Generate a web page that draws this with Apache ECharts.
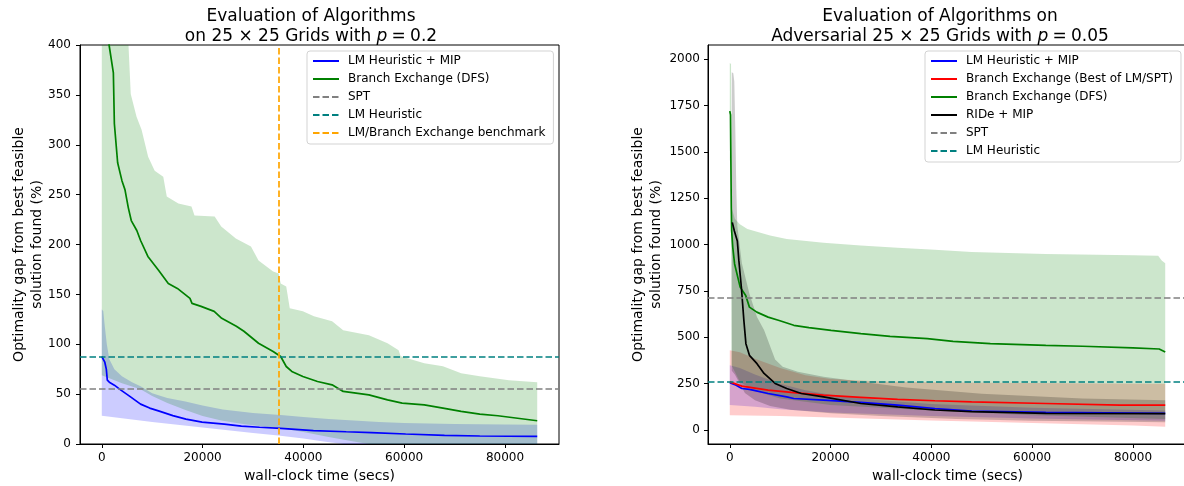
<!DOCTYPE html>
<html><head><meta charset="utf-8">
<script src="https://cdn.jsdelivr.net/npm/echarts@6/dist/echarts.min.js"></script>
<style>html,body{margin:0;padding:0;background:#fff}#c{width:1184px;height:486px}</style>
</head><body><div id="c"></div>
<script>
// ---------- tick labels ----------
const TICKS_X = [0, 20000, 40000, 60000, 80000];
const TICKS_Y_LEFT = [0, 50, 100, 150, 200, 250, 300, 350, 400];
const TICKS_Y_RIGHT = [0, 250, 500, 750, 1000, 1250, 1500, 1750, 2000];

// ---------- left chart (p = 0.2) ----------
const L_LM_MEAN = [[0,87.7],[300,86],[600,82],[900,75],[1100,64],[1500,62],[2500,59],[3800,54],[5500,48],[7700,40],[9500,36],[11400,33],[14100,28.5],[16700,25],[19900,22],[24300,20],[27700,18],[31300,16.8],[35500,15.7],[42000,13.5],[48500,12.3],[53500,11.5],[60300,10],[68000,8.7],[75000,8],[86400,7.7]];
const L_LM_HI = [[0,135],[300,133],[600,118],[1000,100],[1500,85],[2500,75],[4000,68],[6000,62],[7700,58],[10000,51],[13000,46],[16600,42.7],[20000,38.5],[24000,34.5],[30000,31],[35500,29],[40000,27],[45000,25],[50000,23.5],[55000,22],[60000,21],[70000,20],[80000,19.5],[86400,19.3]];
const L_LM_LO = [[0,28.3],[10000,22],[20000,16.5],[30000,11],[35000,8.5],[40000,5.5],[44000,2.5],[48000,0],[86400,-25]];
const L_DFS_MEAN = [[0,900],[1450,400],[2300,372],[2500,321],[3150,282],[4000,264],[4600,255],[5260,237],[5850,224],[6950,214],[7700,204],[9150,188],[11300,174],[13200,161],[15000,156],[17500,146],[17900,141],[19700,138],[22300,133],[23800,126],[26700,118],[28200,113],[31100,101],[34000,92.7],[35500,87.7],[36600,77.7],[37700,72.7],[39900,67.7],[42800,62.7],[45700,59.3],[47900,52.7],[53000,49.3],[56700,44.3],[59600,41],[64000,39.3],[67700,36],[71300,32.7],[75000,30],[78600,28.3],[86400,23.3]];
const L_DFS_HI = [[0,900],[5000,450],[5300,400],[5750,351],[6900,328],[7900,315],[9200,288],[10500,274],[12200,268],[12900,248],[15200,241],[17800,238],[18400,229],[22400,228],[23700,218],[26600,206],[29600,198],[31100,184],[34000,173],[35100,171],[35500,161],[36600,158],[37300,136],[39900,133],[42100,128],[45700,123],[47900,114],[53000,109],[56700,101],[58900,94],[59300,88],[64000,81],[67700,78],[71300,71],[75000,68],[80800,64],[86400,62]];
const L_DFS_LO = [[0,69],[2000,65],[4000,61],[7700,55],[10000,48],[13000,41],[16600,34],[20000,28],[23700,23.5],[28000,20],[32000,17.5],[35500,15.7],[40000,12],[45000,7],[50000,2.5],[53000,0],[86400,-25]];
const L_SPT = 55.7;
const L_LM_HEUR = 87.3;
const L_BENCH_T = 35200;

// ---------- right chart (adversarial, p = 0.05) ----------
const R_LM_MEAN = [[0,255],[1000,245],[2400,224],[3900,219],[7600,197],[11300,179],[12700,170],[18600,161],[26000,149],[33300,134],[40700,116],[48000,102],[62700,95],[86400,90]];
const R_LM_HI = [[0,350],[2000,335],[5000,300],[10000,250],[15000,215],[20000,190],[30000,160],[40000,140],[60000,120],[86400,105]];
const R_LM_LO = [[0,135],[5000,125],[10000,112],[20000,95],[40000,75],[60000,62],[86400,50]];
const R_BE_MEAN = [[0,260],[2400,237],[7600,215],[12700,202],[18600,188],[26000,176],[33300,165],[40700,158],[48000,152],[62700,143],[77400,134],[86400,134]];
const R_BE_HI = [[0,430],[2000,420],[5000,385],[10000,335],[15000,295],[20000,275],[30000,262],[45000,256],[60000,253],[86400,250]];
const R_BE_LO = [[0,80],[10000,75],[20000,68],[40000,52],[60000,38],[80000,24],[86400,18]];
const R_DFS_MEAN = [[0,1720],[150,1700],[300,1200],[370,1075],[590,986],[960,896],[2060,771],[3160,726],[3900,663],[5370,636],[7600,609],[9800,591],[12700,565],[15700,552],[20100,538],[26000,520],[31800,505],[39200,493],[44300,478],[51700,466],[62700,457],[70000,452],[80000,443],[85200,437],[86400,421]];
const R_DFS_HI = [[0,1980],[250,1975],[350,1200],[1000,1140],[2000,1110],[3500,1085],[5400,1070],[8000,1050],[11300,1030],[18600,1010],[26000,995],[33300,983],[40700,972],[48000,960],[62700,950],[80000,943],[85000,940],[85700,915],[86400,900]];
const R_DFS_LO = [[0,1460],[250,1400],[350,350],[2000,260],[5000,210],[10000,170],[20000,135],[40000,105],[60000,80],[86400,60]];
const R_RIDE_MEAN = [[500,1120],[900,1075],[1500,1020],[1800,915],[2300,770],[2800,590],[3200,466],[3900,403],[5400,358],[6800,305],[9000,251],[11300,224],[14200,197],[18600,179],[26000,143],[33300,125],[40700,108],[48000,99],[62700,90],[86400,88]];
const R_RIDE_HI = [[400,1930],[700,1925],[900,1880],[1100,1620],[1300,1300],[1500,1100],[2400,900],[3900,735],[5400,610],[6800,540],[9000,380],[10500,341],[13500,314],[18600,287],[26000,260],[35000,230],[50000,195],[70000,170],[86400,160]];
const R_RIDE_LO = [[400,320],[1000,300],[2000,250],[3000,200],[5000,160],[8000,130],[12000,110],[20000,90],[30000,75],[45000,60],[60000,50],[86400,42]];
const R_SPT = 715;
const R_LM_HEUR = 258;

// ---------- rendering ----------
const F = 'DejaVu Sans';
const DASH = [6.5, 3];
const LW = 1.7;

function band(hi, lo, color, ax) {
  const pts = hi.concat(lo.slice().reverse());
  return {
    type: 'custom', xAxisIndex: ax, yAxisIndex: ax, silent: true, clip: true, z: 1,
    data: pts, encode: { x: 0, y: 1 },
    renderItem: function (params, api) {
      if (params.dataIndex !== 0) return null;
      return { type: 'polygon', shape: { points: pts.map(p => api.coord(p)) }, style: { fill: color } };
    }
  };
}
function line(name, data, color, ax) {
  return { type: 'line', name: name, data: data, xAxisIndex: ax, yAxisIndex: ax, symbol: 'none', showSymbol: false,
    silent: true, z: 3, clip: true, lineStyle: { color: color, width: LW }, itemStyle: { color: color } };
}
function refLine(name, color, ax, pos) {
  return { type: 'line', name: name, data: [], xAxisIndex: ax, yAxisIndex: ax, symbol: 'none', silent: true, z: 4,
    lineStyle: { color: color, width: LW, type: DASH }, itemStyle: { color: color },
    markLine: { silent: true, symbol: ['none', 'none'], label: { show: false }, animation: false,
      lineStyle: { color: color, width: LW, type: DASH }, data: [pos] } };
}
function xAx(i) {
  return { type: 'value', gridIndex: i, min: -4320, max: 90720,
    splitLine: { show: false },
    axisLine: { show: true, onZero: false, lineStyle: { color: '#000', width: 1 } },
    axisTick: { show: true, length: 4, lineStyle: { color: '#000', width: 1 }, customValues: TICKS_X },
    axisLabel: { customValues: TICKS_X, formatter: v => String(v), color: '#000', fontSize: 12, fontFamily: F, margin: 8 },
    name: 'wall-clock time (secs)', nameLocation: 'middle', nameGap: 24, nameMoveOverlap: false,
    nameTextStyle: { fontSize: 14, color: '#000', fontFamily: F, lineHeight: 17 } };
}
function yAx(i, min, max, ticks, margin, gap, lh) {
  return { type: 'value', gridIndex: i, min: min, max: max,
    splitLine: { show: false },
    axisLine: { show: true, onZero: false, lineStyle: { color: '#000', width: 1 } },
    axisTick: { show: true, length: 4, lineStyle: { color: '#000', width: 1 }, customValues: ticks },
    axisLabel: { customValues: ticks, formatter: v => String(v), color: '#000', fontSize: 12, fontFamily: F, margin: margin },
    name: 'Optimality gap from best feasible\nsolution found (%)', nameLocation: 'middle', nameRotate: 90, nameGap: gap,
    nameMoveOverlap: false,
    nameTextStyle: { fontSize: 14, color: '#000', fontFamily: F, lineHeight: lh, align: 'center' } };
}
function legendCfg(left, top, names) {
  return { left: left, top: top, orient: 'vertical', data: names, selectedMode: false,
    itemWidth: 26, itemHeight: 14, itemGap: 4, padding: [3, 8, 4, 5],
    borderColor: '#d3d3d3', borderWidth: 1, borderRadius: 3, backgroundColor: 'rgba(255,255,255,0.8)',
    itemStyle: { opacity: 0 },
    textStyle: { fontFamily: F, fontSize: 12, color: '#000', lineHeight: 14, padding: [0, 0, 0, 4] } };
}
function titleCfg(text, x) {
  return { text: text, left: x, top: 7, textAlign: 'center', padding: 0,
    textStyle: { fontFamily: F, fontSize: 17, fontWeight: 'normal', color: '#000', lineHeight: 19.5,
      rich: { i: { fontFamily: F, fontSize: 17, fontStyle: 'italic', color: '#000', lineHeight: 19.5 } } } };
}

const chart = echarts.init(document.getElementById('c'), null, { renderer: 'canvas' });
chart.setOption({
  animation: false,
  backgroundColor: '#fff',
  textStyle: { fontFamily: F },
  title: [
    titleCfg('Evaluation of Algorithms\non 25 × 25 Grids with {i|p}\u2005=\u20050.2', 311),
    titleCfg('Evaluation of Algorithms on\nAdversarial 25 × 25 Grids with {i|p}\u2005=\u20050.05', 940)
  ],
  legend: [
    legendCfg(307, 51, ['LM Heuristic + MIP', 'Branch Exchange (DFS)', 'SPT', 'LM Heuristic', 'LM/Branch Exchange benchmark']),
    legendCfg(925, 51, ['LM Heuristic + MIP', 'Branch Exchange (Best of LM/SPT)', 'Branch Exchange (DFS)', 'RIDe + MIP', 'SPT', 'LM Heuristic'])
  ],
  grid: [
    { left: 80, top: 45, width: 479, height: 399, show: true, borderColor: '#000', borderWidth: 1, backgroundColor: 'transparent', outerBoundsMode: 'none', containLabel: false },
    { left: 708, top: 45, width: 479, height: 399, show: true, borderColor: '#000', borderWidth: 1, backgroundColor: 'transparent', outerBoundsMode: 'none', containLabel: false }
  ],
  xAxis: [xAx(0), xAx(1)],
  yAxis: [
    yAx(0, 0, 400, TICKS_Y_LEFT, 9, 34, 18),
    yAx(1, -75.4, 2077, TICKS_Y_RIGHT, 8, 43, 17.5)
  ],
  series: [
    band(L_LM_HI, L_LM_LO, 'rgba(0,0,255,0.2)', 0),
    band(L_DFS_HI, L_DFS_LO, 'rgba(0,128,0,0.2)', 0),
    line('LM Heuristic + MIP', L_LM_MEAN, '#0000ff', 0),
    line('Branch Exchange (DFS)', L_DFS_MEAN, '#008000', 0),
    refLine('SPT', '#808080', 0, { yAxis: L_SPT }),
    refLine('LM Heuristic', '#008080', 0, { yAxis: L_LM_HEUR }),
    refLine('LM/Branch Exchange benchmark', '#ffa500', 0, { xAxis: L_BENCH_T }),

    band(R_LM_HI, R_LM_LO, 'rgba(0,0,255,0.2)', 1),
    band(R_BE_HI, R_BE_LO, 'rgba(255,0,0,0.2)', 1),
    band(R_DFS_HI, R_DFS_LO, 'rgba(0,128,0,0.2)', 1),
    band(R_RIDE_HI, R_RIDE_LO, 'rgba(0,0,0,0.2)', 1),
    line('LM Heuristic + MIP', R_LM_MEAN, '#0000ff', 1),
    line('Branch Exchange (Best of LM/SPT)', R_BE_MEAN, '#ff0000', 1),
    line('Branch Exchange (DFS)', R_DFS_MEAN, '#008000', 1),
    line('RIDe + MIP', R_RIDE_MEAN, '#000000', 1),
    refLine('SPT', '#808080', 1, { yAxis: R_SPT }),
    refLine('LM Heuristic', '#008080', 1, { yAxis: R_LM_HEUR })
  ]
});
</script>
</body></html>
